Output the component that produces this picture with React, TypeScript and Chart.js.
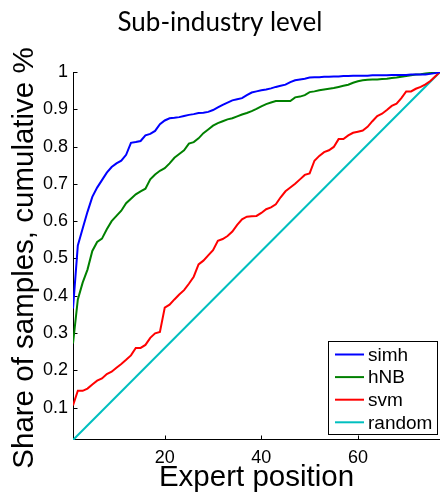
import React, { useEffect, useRef } from "react";
import { Chart, registerables } from "chart.js";

Chart.register(...registerables);

const titleText = "Sub-industry level";
const xAxisLabel = "Expert position";
const yAxisLabel = "Share of samples, cumulative %";
const seriesNames = ["simh", "hNB", "svm", "random"];
const seriesColors = ["#0000ff", "#008000", "#ff0000", "#00bfbf"];
const xTicks = [20, 40, 60];
const yTicks = [0.1, 0.2, 0.3, 0.4, 0.5, 0.6, 0.7, 0.8, 0.9, 1];
const xMin = 1;
const xMax = 77;
const yMin = 0.013;
const yMax = 1;

// cumulative share per expert position 1..77
const simh = [
  0.366, 0.535, 0.58, 0.625, 0.665, 0.69, 0.71, 0.73, 0.745, 0.755,
  0.762, 0.778, 0.81, 0.812, 0.815, 0.83, 0.834, 0.842, 0.86, 0.87,
  0.876, 0.877, 0.879, 0.882, 0.885, 0.887, 0.89, 0.891, 0.893, 0.898,
  0.905, 0.912, 0.918, 0.924, 0.927, 0.93, 0.938, 0.945, 0.948, 0.951,
  0.953, 0.956, 0.96, 0.963, 0.966, 0.973, 0.978, 0.98, 0.982, 0.985,
  0.986, 0.986, 0.987, 0.987, 0.988, 0.988, 0.989, 0.989, 0.99, 0.99,
  0.99, 0.99, 0.991, 0.991, 0.991, 0.991, 0.992, 0.992, 0.992, 0.992,
  0.993, 0.993, 0.993, 0.993, 0.995, 0.997, 1.0,
];
const hnb = [
  0.272, 0.39, 0.435, 0.47, 0.52, 0.544, 0.553, 0.578, 0.6, 0.614,
  0.628, 0.648, 0.66, 0.672, 0.68, 0.687, 0.712, 0.725, 0.735, 0.742,
  0.755, 0.77, 0.78, 0.79, 0.808, 0.812, 0.822, 0.836, 0.846, 0.856,
  0.863, 0.868, 0.873, 0.876, 0.881, 0.886, 0.89, 0.895, 0.901, 0.908,
  0.914, 0.918, 0.922, 0.922, 0.922, 0.922, 0.932, 0.934, 0.938, 0.946,
  0.948, 0.951, 0.953, 0.955, 0.957, 0.96, 0.963, 0.966, 0.971, 0.975,
  0.978, 0.979, 0.98, 0.98, 0.981, 0.982, 0.984, 0.985, 0.987, 0.989,
  0.991, 0.993, 0.994, 0.996, 0.997, 0.999, 1.0,
];
const svm = [
  0.106, 0.145, 0.145, 0.151, 0.162, 0.172, 0.178, 0.19, 0.196, 0.207,
  0.217, 0.228, 0.24, 0.26, 0.26, 0.268, 0.287, 0.299, 0.303, 0.368,
  0.376, 0.39, 0.403, 0.415, 0.432, 0.451, 0.484, 0.494, 0.508, 0.522,
  0.547, 0.552, 0.56, 0.572, 0.59, 0.605, 0.612, 0.613, 0.614, 0.622,
  0.632, 0.637, 0.645, 0.664, 0.68, 0.69, 0.7, 0.712, 0.724, 0.728,
  0.762, 0.775, 0.785, 0.79, 0.799, 0.82, 0.82, 0.83, 0.837, 0.84,
  0.843, 0.853, 0.868, 0.882, 0.888, 0.898, 0.909, 0.915, 0.93, 0.948,
  0.948, 0.955, 0.96, 0.967, 0.976, 0.988, 1.0,
];
const randomX = [1, 77];
const randomY = [0.013, 1];

const sansFont = "'Liberation Sans', Arial, Helvetica, sans-serif";

const toPoints = (vals: number[]) => vals.map((v, i) => ({ x: i + 1, y: v }));

const decorPlugin = {
  id: "decor",
  beforeDatasetsDraw(chart: any) {
    const { ctx, chartArea: ca, scales } = chart;
    const xs = scales.x;
    const ys = scales.y;
    ctx.save();
    ctx.strokeStyle = "#000";
    ctx.lineWidth = 1;
    ctx.beginPath();
    const lx = Math.round(ca.left) + 0.5;
    const by = Math.round(ca.bottom) - 0.5;
    ctx.moveTo(lx, ca.top);
    ctx.lineTo(lx, by);
    ctx.lineTo(ca.right, by);
    yTicks.forEach((v) => {
      const y = Math.round(ys.getPixelForValue(v)) + 0.5;
      ctx.moveTo(lx, y);
      ctx.lineTo(lx + 4, y);
    });
    xTicks.forEach((v) => {
      const x = Math.round(xs.getPixelForValue(v)) + 0.5;
      ctx.moveTo(x, by);
      ctx.lineTo(x, by - 4);
    });
    ctx.stroke();
    ctx.restore();
  },
  afterDraw(chart: any) {
    const { ctx, chartArea: ca, width } = chart;
    ctx.save();
    // title
    ctx.fillStyle = "#000";
    ctx.font = "26px Lato, 'Open Sans', sans-serif";
    ctx.textAlign = "center";
    ctx.textBaseline = "alphabetic";
    ctx.fillText(titleText, width / 2, 31);
    // x label
    ctx.font = `29.5px ${sansFont}`;
    ctx.fillText(xAxisLabel, (ca.left + ca.right) / 2, 486);
    // y label
    ctx.save();
    ctx.translate(33, (ca.top + ca.bottom) / 2 + 2);
    ctx.rotate(-Math.PI / 2);
    ctx.fillText(yAxisLabel, 0, 0);
    ctx.restore();
    // legend
    const x1 = ca.right - 112;
    const x2 = ca.right - 3;
    const y1 = ca.bottom - 99;
    const y2 = ca.bottom - 6;
    ctx.fillStyle = "#fff";
    ctx.fillRect(x1, y1, x2 - x1, y2 - y1);
    ctx.strokeStyle = "#000";
    ctx.lineWidth = 1;
    ctx.strokeRect(Math.round(x1) + 0.5, Math.round(y1) + 0.5, x2 - x1, y2 - y1);
    ctx.font = `19px ${sansFont}`;
    ctx.textAlign = "left";
    ctx.textBaseline = "middle";
    chart.data.datasets.forEach((ds: any, i: number) => {
      const ry = y1 + 13.5 + i * 22.6;
      ctx.strokeStyle = ds.borderColor;
      ctx.lineWidth = 2;
      ctx.beginPath();
      ctx.moveTo(x1 + 7, ry);
      ctx.lineTo(x1 + 36, ry);
      ctx.stroke();
      ctx.fillStyle = "#000";
      ctx.fillText(ds.label, x1 + 40, ry + 1);
    });
    ctx.restore();
  },
};

export default function App() {
  const canvasRef = useRef<HTMLCanvasElement | null>(null);

  useEffect(() => {
    const canvas = canvasRef.current;
    if (!canvas) return;
    const seriesData = [
      toPoints(simh),
      toPoints(hnb),
      toPoints(svm),
      randomX.map((x, i) => ({ x, y: randomY[i] })),
    ];
    const chart = new Chart(canvas, {
      type: "line",
      data: {
        datasets: seriesData.map((d, i) => ({
          label: seriesNames[i],
          data: d,
          borderColor: seriesColors[i],
          backgroundColor: seriesColors[i],
          borderWidth: 2,
          pointRadius: 0,
          tension: 0,
          fill: false,
        })),
      },
      options: {
        responsive: false,
        animation: false,
        devicePixelRatio: 1,
        layout: { padding: { top: 72, left: 0, right: 0, bottom: 0 } },
        plugins: {
          legend: { display: false },
          title: { display: false },
          tooltip: { enabled: false },
        },
        scales: {
          x: {
            type: "linear",
            min: xMin,
            max: xMax,
            grid: { display: false, drawTicks: false },
            border: { display: false },
            afterBuildTicks: (s: any) => {
              s.ticks = xTicks.map((v) => ({ value: v }));
            },
            afterFit: (s: any) => {
              s.height = 53;
            },
            ticks: {
              color: "#000",
              padding: 7,
              maxRotation: 0,
              font: { family: sansFont, size: 18 },
              callback: (v: any) => String(v),
            },
          },
          y: {
            type: "linear",
            min: yMin,
            max: yMax,
            grid: { display: false, drawTicks: false },
            border: { display: false },
            afterBuildTicks: (s: any) => {
              s.ticks = yTicks.map((v) => ({ value: v }));
            },
            afterFit: (s: any) => {
              s.width = 73;
            },
            ticks: {
              color: "#000",
              padding: 5,
              font: { family: sansFont, size: 18 },
              callback: (v: any) => (Number(v) === 1 ? "1" : Number(v).toFixed(1)),
            },
          },
        },
      },
      plugins: [decorPlugin],
    });
    return () => chart.destroy();
  }, []);

  return (
    <div style={{ position: "absolute", left: 0, top: 0, width: 440, height: 493, background: "#fff" }}>
      <canvas ref={canvasRef} width={440} height={493} style={{ display: "block" }} />
    </div>
  );
}
